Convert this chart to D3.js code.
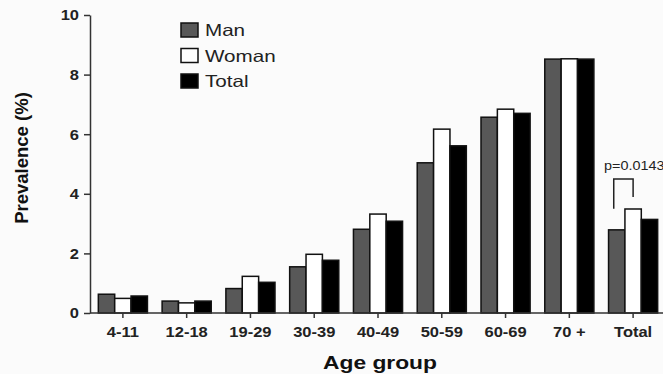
<!DOCTYPE html>
<html>
<head>
<meta charset="utf-8">
<script src="https://cdn.jsdelivr.net/npm/d3@7"></script>
<style>
  body { margin: 0; background: #fbfbfb; }
  svg { display: block; font-family: "Liberation Sans", Arial, sans-serif; }
</style>
</head>
<body>
<div id="chart"></div>
<script>
// data
const ageGroups = ['4-11', '12-18', '19-29', '30-39', '40-49', '50-59', '60-69', '70 +', 'Total'];
const seriesNames = ['Man', 'Woman', 'Total'];
const manValues = [0.63, 0.40, 0.82, 1.55, 2.81, 5.04, 6.57, 8.52, 2.79];
const womanValues = [0.49, 0.34, 1.23, 1.97, 3.32, 6.17, 6.84, 8.53, 3.49];
const totalValues = [0.57, 0.40, 1.03, 1.77, 3.08, 5.61, 6.70, 8.52, 3.14];
const yTicks = [0, 2, 4, 6, 8, 10];
const pLabel = 'p=0.0143';

const width = 663, height = 374;
const colors = { Man: '#585858', Woman: '#ffffff', Total: '#000000' };

const svg = d3.select('#chart').append('svg')
    .attr('width', width)
    .attr('height', height);

const x = d3.scaleBand()
    .domain(ageGroups)
    .range([91, 665])
    .paddingInner(0.23)
    .paddingOuter(0.115);

const xSub = d3.scaleBand()
    .domain(seriesNames)
    .range([0, x.bandwidth()]);

const y = d3.scaleLinear()
    .domain([0, 10])
    .range([313, 15]);

const rows = ageGroups.map((g, i) => ({
    group: g,
    values: [
        { key: 'Man', value: manValues[i] },
        { key: 'Woman', value: womanValues[i] },
        { key: 'Total', value: totalValues[i] }
    ]
}));

// bars
svg.append('g')
  .selectAll('g')
  .data(rows)
  .join('g')
    .attr('transform', d => 'translate(' + x(d.group) + ',0)')
  .selectAll('rect')
  .data(d => d.values)
  .join('rect')
    .attr('x', d => xSub(d.key))
    .attr('y', d => y(d.value))
    .attr('width', xSub.bandwidth())
    .attr('height', d => y(0) - y(d.value))
    .attr('fill', d => colors[d.key])
    .attr('stroke', '#111')
    .attr('stroke-width', 1.5);

// x axis
const xAxis = svg.append('g')
    .attr('transform', 'translate(0,' + y(0) + ')')
    .call(d3.axisBottom(x).tickSize(5).tickSizeOuter(0));
xAxis.select('.domain').attr('d', 'M90,0H663').attr('stroke', '#333').attr('stroke-width', 1.5);
xAxis.selectAll('.tick line').attr('stroke', '#333').attr('stroke-width', 1.5);
xAxis.selectAll('.tick text')
    .attr('y', 13)
    .attr('transform', 'scale(1.1,1)')
    .attr('fill', '#222')
    .style('font-size', '15px')
    .style('font-weight', 'bold');

// y axis
const yAxis = svg.append('g')
    .attr('transform', 'translate(90,0)')
    .call(d3.axisLeft(y).tickValues(yTicks).tickSize(6).tickSizeOuter(0));
yAxis.select('.domain').attr('stroke', '#333').attr('stroke-width', 1.5);
yAxis.selectAll('.tick line').attr('stroke', '#333').attr('stroke-width', 1.5);
yAxis.selectAll('.tick text')
    .attr('x', -10)
    .attr('transform', 'scale(1.1,1)')
    .attr('fill', '#222')
    .style('font-size', '15px')
    .style('font-weight', 'bold');

// axis titles
svg.append('text')
    .attr('transform', 'translate(28,158) rotate(-90)')
    .attr('text-anchor', 'middle')
    .attr('fill', '#111')
    .style('font-size', '18.5px')
    .style('font-weight', 'bold')
    .text('Prevalence (%)');

svg.append('text')
    .attr('transform', 'translate(380,369) scale(1.2,1)')
    .attr('text-anchor', 'middle')
    .attr('fill', '#111')
    .style('font-size', '19px')
    .style('font-weight', 'bold')
    .text('Age group');

// legend
const legend = svg.append('g')
    .attr('transform', 'translate(181,23)');
const item = legend.selectAll('g')
    .data(seriesNames)
    .join('g')
    .attr('transform', (d, i) => 'translate(0,' + (i * 25.5) + ')');
item.append('rect')
    .attr('width', 17)
    .attr('height', 14)
    .attr('fill', d => colors[d])
    .attr('stroke', '#111')
    .attr('stroke-width', 1.5);
item.append('text')
    .attr('transform', 'translate(24,13) scale(1.25,1)')
    .attr('fill', '#222')
    .style('font-size', '16.5px')
    .text(d => d);

// significance bracket on the Total group
const last = ageGroups.length - 1;
const bx1 = x('Total') + xSub('Man') + xSub.bandwidth() / 2 - 3;
const bx2 = x('Total') + xSub('Woman') + xSub.bandwidth() / 2;
const bTop = y(womanValues[last]) - 30;
svg.append('path')
    .attr('d', 'M' + bx1 + ',' + (y(manValues[last]) - 21) + 'V' + bTop + 'H' + bx2 + 'V' + (y(womanValues[last]) - 12))
    .attr('fill', 'none')
    .attr('stroke', '#222')
    .attr('stroke-width', 1.5);
svg.append('text')
    .attr('transform', 'translate(604,' + (bTop - 9) + ') scale(1.2,1)')
    .attr('fill', '#222')
    .style('font-size', '12px')
    .text(pLabel);
</script>
</body>
</html>
